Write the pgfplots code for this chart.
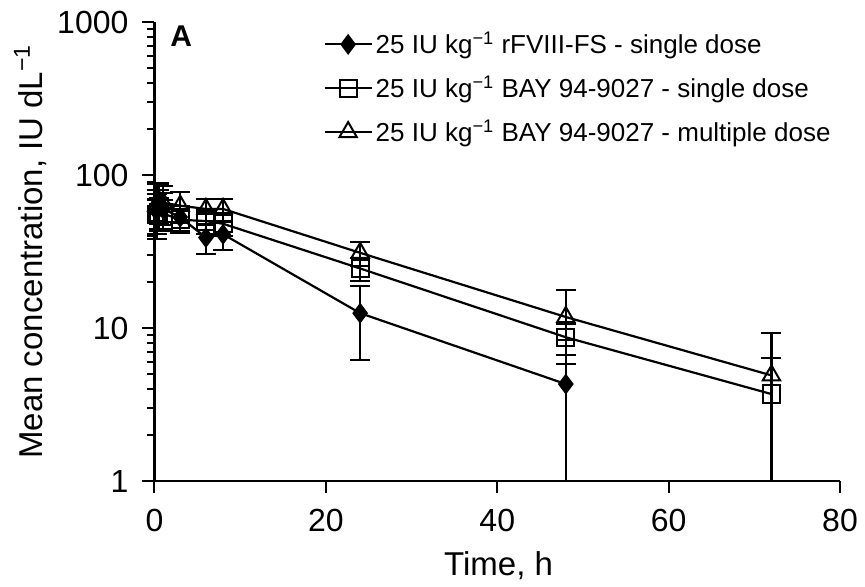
\documentclass[border=0pt]{standalone}
\usepackage{fontspec}
\setmainfont{Liberation Sans}
\usepackage{pgfplots}
\usepackage{pgfplotstable}
\pgfplotsset{compat=1.18}
\pgfplotstableread{
t y ep em
0.25 58 17 17
0.5 62 18 18
1 60 16 16
3 53 10 10
6 39 8.5 8.5
8 41 8.5 8.5
24 12.5 6.3 6.3
48 4.3 4.0 3.3
}\rfviii
\pgfplotstableread{
t y ep em
0.25 55 14 14
0.5 57 14 14
1 56 13 13
3 51 9 9
6 50 9 9
8 48 8 8
24 24.5 4.3 4.3
48 8.7 2.0 2.0
72 3.7 2.7 2.7
}\baysingle
\pgfplotstableread{
t y ep em
0.25 63 25 25
0.5 68 20 20
1 66 19 19
3 63 14 14
6 60 10 10
8 60 10 10
24 31 5.5 5.5
48 11.8 6 6
72 4.9 4.4 3.9
}\baymulti
\begin{document}
\begin{tikzpicture}
\useasboundingbox (-77.25pt,-53pt) rectangle (355.25pt,240.5pt);
\begin{axis}[
  at={(0,0)}, anchor=south west,
  scale only axis, width=342.75pt, height=229.5pt,
  ymode=log, xmin=0, xmax=80, ymin=1, ymax=1000,
  axis x line*=bottom, axis y line*=left,
  axis line style={line width=1.2pt},
  tick align=outside, major tick length=6pt, minor tick length=3.5pt,
  tick style={line width=1pt, black},
  xtick={0,20,40,60,80}, xticklabels={0,20,40,60,80},
  ytick={1,10,100,1000}, yticklabels={1,10,100,1000},
  minor ytick={2,3,4,5,6,7,8,9,20,30,40,50,60,70,80,90,200,300,400,500,600,700,800,900},
  minor xtick={},
  ticklabel style={font=\fontsize{16}{19}\selectfont},
  xticklabel style={yshift=-4.5pt},
  yticklabel style={xshift=-3.5pt},
  xlabel={Time, h},
  ylabel={Mean concentration, IU dL\textsuperscript{−1}},
  label style={font=\fontsize{16.5}{20}\selectfont},
  xlabel style={at={(axis description cs:0.502,-0.206)}, anchor=base},
  ylabel style={at={(axis description cs:-0.181,0.5)}, anchor=center},
  clip=false,
  legend cell align=left,
  legend style={at={(axis description cs:0.246,0.985)}, anchor=north west,
    draw=none, fill=none, font=\fontsize{13}{15.6}\selectfont,
    inner sep=0pt, row sep=6.8pt, nodes={inner sep=1.5pt}},
  every axis plot/.append style={
    legend image code/.code={\draw[mark repeat=2,mark phase=2] plot coordinates {(0pt,0pt) (11.75pt,0pt) (23.5pt,0pt)};}},
  error bars/y dir=both, error bars/y explicit,
  error bars/error mark=|,
  error bars/error mark options={mark size=5pt, line width=1.1pt, black},
  error bars/error bar style={line width=1.1pt, black},
]
\addplot[black, line width=1.1pt, mark=diamond*, mark size=4.6pt, mark options={fill=black, line width=0.8pt}]
  table[x=t, y=y, y error plus=ep, y error minus=em] {\rfviii};
\addlegendentry{25 IU kg\textsuperscript{−1} rFVIII-FS - single dose}
\addplot[black, line width=1.1pt, mark=square, mark size=4.3pt, mark options={line width=1pt}]
  table[x=t, y=y, y error plus=ep, y error minus=em] {\baysingle};
\addlegendentry{25 IU kg\textsuperscript{−1} BAY 94-9027 - single dose}
\addplot[black, line width=1.1pt, mark=triangle, mark size=5pt, mark options={line width=1pt}]
  table[x=t, y=y, y error plus=ep, y error minus=em] {\baymulti};
\addlegendentry{25 IU kg\textsuperscript{−1} BAY 94-9027 - multiple dose}
\node[anchor=north west, inner sep=0pt, font=\bfseries\fontsize{15}{17}\selectfont] at (rel axis cs:0.0226,0.993) {A};
\end{axis}
\end{tikzpicture}
\end{document}
